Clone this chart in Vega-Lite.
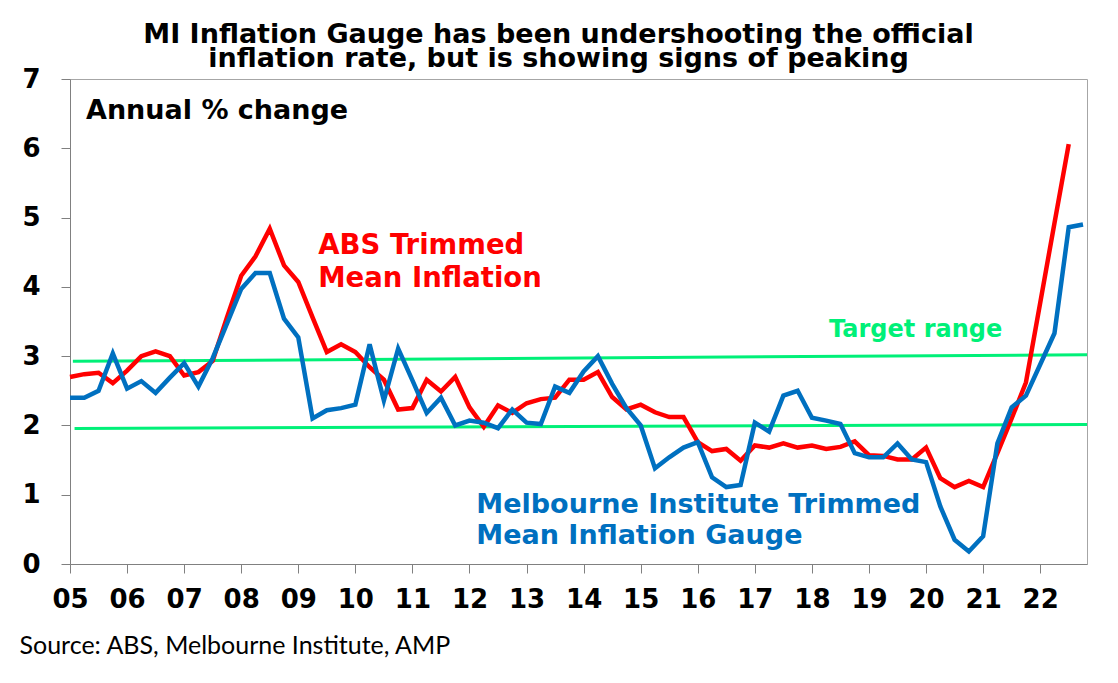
{
  "$schema": "https://vega.github.io/schema/vega-lite/v6.json",
  "width": 1017,
  "height": 485,
  "autosize": {"type": "none"},
  "padding": {"left": 70, "top": 79, "right": 31, "bottom": 119},
  "background": "white",
  "title": {
    "text": ["MI Inflation Gauge has been undershooting the official", "inflation rate, but is showing signs of peaking"],
    "font": "DejaVu Sans", "fontSize": 27, "fontWeight": "bold", "color": "black",
    "lineHeight": 24.5, "anchor": "middle", "frame": "group", "dx": -20, "offset": -34, "baseline": "bottom"
  },
  "config": {
    "view": {"stroke": "#A6A6A6", "strokeWidth": 1},
    "axis": {"grid": false}
  },
  "datasets": {
    "abs": [
      {"t": 2005.00, "v": 2.70}, {"t": 2005.25, "v": 2.74}, {"t": 2005.50, "v": 2.76}, {"t": 2005.75, "v": 2.61},
      {"t": 2006.00, "v": 2.79}, {"t": 2006.25, "v": 3.00}, {"t": 2006.50, "v": 3.07}, {"t": 2006.75, "v": 3.00},
      {"t": 2007.00, "v": 2.72}, {"t": 2007.25, "v": 2.77}, {"t": 2007.50, "v": 2.93}, {"t": 2007.75, "v": 3.56},
      {"t": 2008.00, "v": 4.16}, {"t": 2008.25, "v": 4.44}, {"t": 2008.50, "v": 4.84}, {"t": 2008.75, "v": 4.31},
      {"t": 2009.00, "v": 4.07}, {"t": 2009.25, "v": 3.56}, {"t": 2009.50, "v": 3.06}, {"t": 2009.75, "v": 3.17},
      {"t": 2010.00, "v": 3.06}, {"t": 2010.25, "v": 2.84}, {"t": 2010.50, "v": 2.66}, {"t": 2010.75, "v": 2.23},
      {"t": 2011.00, "v": 2.25}, {"t": 2011.25, "v": 2.66}, {"t": 2011.50, "v": 2.49}, {"t": 2011.75, "v": 2.70},
      {"t": 2012.00, "v": 2.26}, {"t": 2012.25, "v": 1.98}, {"t": 2012.50, "v": 2.29}, {"t": 2012.75, "v": 2.18},
      {"t": 2013.00, "v": 2.32}, {"t": 2013.25, "v": 2.38}, {"t": 2013.50, "v": 2.40}, {"t": 2013.75, "v": 2.66},
      {"t": 2014.00, "v": 2.66}, {"t": 2014.25, "v": 2.77}, {"t": 2014.50, "v": 2.41}, {"t": 2014.75, "v": 2.23},
      {"t": 2015.00, "v": 2.30}, {"t": 2015.25, "v": 2.19}, {"t": 2015.50, "v": 2.12}, {"t": 2015.75, "v": 2.12},
      {"t": 2016.00, "v": 1.76}, {"t": 2016.25, "v": 1.63}, {"t": 2016.50, "v": 1.66}, {"t": 2016.75, "v": 1.49},
      {"t": 2017.00, "v": 1.71}, {"t": 2017.25, "v": 1.68}, {"t": 2017.50, "v": 1.74}, {"t": 2017.75, "v": 1.68},
      {"t": 2018.00, "v": 1.71}, {"t": 2018.25, "v": 1.66}, {"t": 2018.50, "v": 1.69}, {"t": 2018.75, "v": 1.77},
      {"t": 2019.00, "v": 1.57}, {"t": 2019.25, "v": 1.56}, {"t": 2019.50, "v": 1.51}, {"t": 2019.75, "v": 1.51},
      {"t": 2020.00, "v": 1.68}, {"t": 2020.25, "v": 1.24}, {"t": 2020.50, "v": 1.11}, {"t": 2020.75, "v": 1.20},
      {"t": 2021.00, "v": 1.11}, {"t": 2021.25, "v": 1.60}, {"t": 2021.50, "v": 2.10}, {"t": 2021.75, "v": 2.62},
      {"t": 2022.00, "v": 3.77}, {"t": 2022.25, "v": 4.92}, {"t": 2022.50, "v": 6.06}
    ],
    "mi": [
      {"t": 2005.00, "v": 2.40}, {"t": 2005.25, "v": 2.40}, {"t": 2005.50, "v": 2.50}, {"t": 2005.75, "v": 3.04},
      {"t": 2006.00, "v": 2.53}, {"t": 2006.25, "v": 2.64}, {"t": 2006.50, "v": 2.47}, {"t": 2006.75, "v": 2.69},
      {"t": 2007.00, "v": 2.90}, {"t": 2007.25, "v": 2.56}, {"t": 2007.50, "v": 2.97}, {"t": 2007.75, "v": 3.47},
      {"t": 2008.00, "v": 3.97}, {"t": 2008.25, "v": 4.20}, {"t": 2008.50, "v": 4.20}, {"t": 2008.75, "v": 3.54},
      {"t": 2009.00, "v": 3.27}, {"t": 2009.25, "v": 2.10}, {"t": 2009.50, "v": 2.22}, {"t": 2009.75, "v": 2.25},
      {"t": 2010.00, "v": 2.30}, {"t": 2010.25, "v": 3.17}, {"t": 2010.50, "v": 2.36}, {"t": 2010.75, "v": 3.11},
      {"t": 2011.00, "v": 2.65}, {"t": 2011.25, "v": 2.18}, {"t": 2011.50, "v": 2.40}, {"t": 2011.75, "v": 2.00},
      {"t": 2012.00, "v": 2.07}, {"t": 2012.25, "v": 2.04}, {"t": 2012.50, "v": 1.96}, {"t": 2012.75, "v": 2.23},
      {"t": 2013.00, "v": 2.04}, {"t": 2013.25, "v": 2.02}, {"t": 2013.50, "v": 2.56}, {"t": 2013.75, "v": 2.47},
      {"t": 2014.00, "v": 2.78}, {"t": 2014.25, "v": 3.00}, {"t": 2014.50, "v": 2.60}, {"t": 2014.75, "v": 2.25},
      {"t": 2015.00, "v": 2.00}, {"t": 2015.25, "v": 1.38}, {"t": 2015.50, "v": 1.54}, {"t": 2015.75, "v": 1.68},
      {"t": 2016.00, "v": 1.76}, {"t": 2016.25, "v": 1.25}, {"t": 2016.50, "v": 1.11}, {"t": 2016.75, "v": 1.14},
      {"t": 2017.00, "v": 2.04}, {"t": 2017.25, "v": 1.91}, {"t": 2017.50, "v": 2.43}, {"t": 2017.75, "v": 2.50},
      {"t": 2018.00, "v": 2.11}, {"t": 2018.25, "v": 2.07}, {"t": 2018.50, "v": 2.02}, {"t": 2018.75, "v": 1.60},
      {"t": 2019.00, "v": 1.54}, {"t": 2019.25, "v": 1.54}, {"t": 2019.50, "v": 1.74}, {"t": 2019.75, "v": 1.51},
      {"t": 2020.00, "v": 1.47}, {"t": 2020.25, "v": 0.83}, {"t": 2020.50, "v": 0.35}, {"t": 2020.75, "v": 0.18},
      {"t": 2021.00, "v": 0.40}, {"t": 2021.25, "v": 1.74}, {"t": 2021.50, "v": 2.26}, {"t": 2021.75, "v": 2.43},
      {"t": 2022.00, "v": 2.88}, {"t": 2022.25, "v": 3.33}, {"t": 2022.50, "v": 4.86}, {"t": 2022.75, "v": 4.90}
    ],
    "target": [
      {"band": "upper", "t": 2005.05, "v": 2.925},
      {"band": "upper", "t": 2022.82, "v": 3.02},
      {"band": "lower", "t": 2005.08, "v": 1.955},
      {"band": "lower", "t": 2022.82, "v": 2.015}
    ]
  },
  "layer": [
    {
      "data": {"name": "target"},
      "mark": {"type": "line", "color": "#00F078", "strokeWidth": 3},
      "encoding": {
        "x": {
          "field": "t", "type": "quantitative",
          "scale": {"domain": [2005, 2022.82], "nice": false, "zero": false},
          "axis": {
            "values": [2005, 2006, 2007, 2008, 2009, 2010, 2011, 2012, 2013, 2014, 2015, 2016, 2017, 2018, 2019, 2020, 2021, 2022],
            "labelExpr": "slice('0' + (datum.value - 2000), -2)",
            "labelFont": "DejaVu Sans", "labelFontSize": 26, "labelFontWeight": "bold", "labelColor": "black",
            "labelBaseline": "top", "labelPadding": 13, "labelFlush": false, "labelOverlap": false,
            "domainColor": "#808080", "tickColor": "#808080", "tickSize": 9,
            "title": "Source: ABS, Melbourne Institute, AMP",
            "titleFont": "Lato", "titleFontSize": 25, "titleFontWeight": "normal", "titleColor": "black",
            "titleX": -51, "titleY": 89, "titleAlign": "left", "titleBaseline": "alphabetic", "titleAnchor": "start"
          }
        },
        "y": {
          "field": "v", "type": "quantitative",
          "scale": {"domain": [0, 7], "nice": false},
          "axis": {
            "values": [0, 1, 2, 3, 4, 5, 6, 7],
            "format": "d",
            "labelFont": "DejaVu Sans", "labelFontSize": 26, "labelFontWeight": "bold", "labelColor": "black",
            "labelPadding": 21, "labelFlush": false, "labelOverlap": false,
            "domainColor": "#808080", "tickColor": "#808080", "tickSize": 9,
            "title": null
          }
        },
        "detail": {"field": "band"}
      }
    },
    {
      "data": {"name": "abs"},
      "mark": {"type": "line", "color": "#FF0000", "strokeWidth": 4.5},
      "encoding": {
        "x": {"field": "t", "type": "quantitative"},
        "y": {"field": "v", "type": "quantitative"}
      }
    },
    {
      "data": {"name": "mi"},
      "mark": {"type": "line", "color": "#0070C0", "strokeWidth": 4.5},
      "encoding": {
        "x": {"field": "t", "type": "quantitative"},
        "y": {"field": "v", "type": "quantitative"}
      }
    },
    {
      "data": {"values": [{"t": 2005.28, "v": 6.42, "label": "Annual % change"}]},
      "mark": {"type": "text", "font": "DejaVu Sans", "fontSize": 27, "fontWeight": "bold", "color": "black", "align": "left", "baseline": "alphabetic"},
      "encoding": {
        "x": {"field": "t", "type": "quantitative"},
        "y": {"field": "v", "type": "quantitative"},
        "text": {"field": "label"}
      }
    },
    {
      "data": {"values": [{"t": 2009.35, "v": 4.47, "label": ["ABS Trimmed", "Mean Inflation"]}]},
      "mark": {"type": "text", "font": "DejaVu Sans", "fontSize": 27.5, "fontWeight": "bold", "color": "#FF0000", "align": "left", "baseline": "alphabetic", "lineHeight": 32.4},
      "encoding": {
        "x": {"field": "t", "type": "quantitative"},
        "y": {"field": "v", "type": "quantitative"},
        "text": {"field": "label"}
      }
    },
    {
      "data": {"values": [{"t": 2012.12, "v": 0.73, "label": ["Melbourne Institute Trimmed", "Mean Inflation Gauge"]}]},
      "mark": {"type": "text", "font": "DejaVu Sans", "fontSize": 27, "fontWeight": "bold", "color": "#0070C0", "align": "left", "baseline": "alphabetic", "lineHeight": 31},
      "encoding": {
        "x": {"field": "t", "type": "quantitative"},
        "y": {"field": "v", "type": "quantitative"},
        "text": {"field": "label"}
      }
    },
    {
      "data": {"values": [{"t": 2018.30, "v": 3.28, "label": "Target range"}]},
      "mark": {"type": "text", "font": "DejaVu Sans", "fontSize": 24, "fontWeight": "bold", "color": "#00F078", "align": "left", "baseline": "alphabetic"},
      "encoding": {
        "x": {"field": "t", "type": "quantitative"},
        "y": {"field": "v", "type": "quantitative"},
        "text": {"field": "label"}
      }
    }
  ]
}
